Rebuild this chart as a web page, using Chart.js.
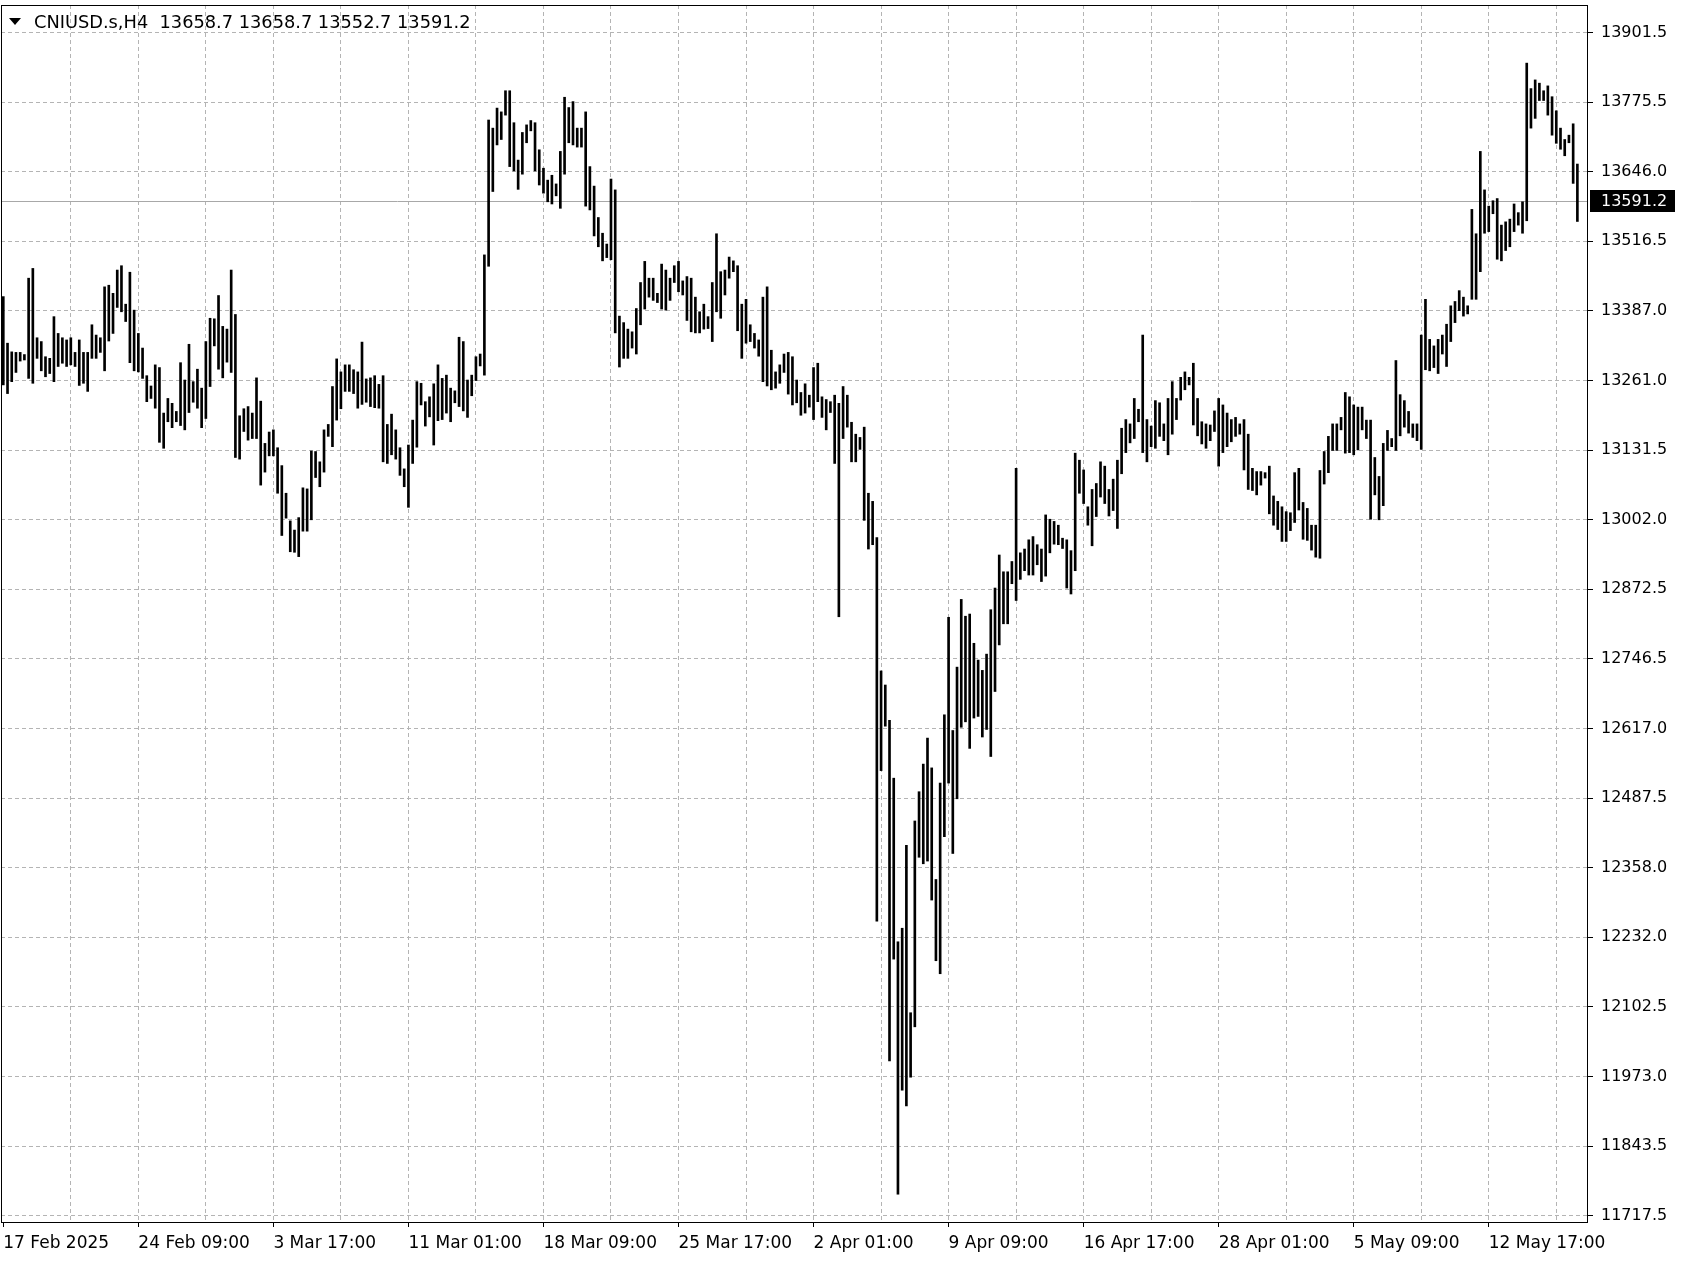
<!DOCTYPE html>
<html lang="en">
<head>
<meta charset="UTF-8">
<title>CNIUSD.s,H4</title>
<style>
    html, body { margin: 0; padding: 0; background: #fff; }
    #chart-box { width: 1700px; height: 1280px; }
</style>
</head>
<body>
<div id="chart-box"><canvas id="price-chart" width="1700" height="1280"></canvas></div>

<script src="https://cdn.jsdelivr.net/npm/chart.js"></script>
<script>
// header values: open high low close of the last bar
const symbolName = 'CNIUSD.s,H4';
const lastBarOHLC = [13658.7, 13658.7, 13552.7, 13591.2];
const lastPrice = 13591.2;

// bottom axis labels, one every 32 bars starting at bar 0
const xLabels = ['17 Feb 2025', '24 Feb 09:00', '3 Mar 17:00', '11 Mar 01:00', '18 Mar 09:00', '25 Mar 17:00',
    '2 Apr 01:00', '9 Apr 09:00', '16 Apr 17:00', '28 Apr 01:00', '5 May 09:00', '12 May 17:00'];

// price scale labels (the terminal spaces them evenly and rounds the text)
const yTicks = [13901.5, 13775.5, 13646.0, 13516.5, 13387.0, 13261.0, 13131.5, 13002.0, 12872.5,
    12746.5, 12617.0, 12487.5, 12358.0, 12232.0, 12102.5, 11973.0, 11843.5, 11717.5];

// H4 bars, high and low
const highs = [
    13414, 13328, 13312, 13311, 13311, 13307, 13448, 13466, 13338, 13331,
    13303, 13300, 13377, 13346, 13338, 13334, 13338, 13311, 13334, 13311,
    13311, 13362, 13343, 13338, 13432, 13435, 13420, 13463, 13471, 13400,
    13459, 13389, 13346, 13319, 13268, 13249, 13288, 13283, 13199, 13226,
    13217, 13202, 13292, 13260, 13326, 13257, 13280, 13245, 13331, 13374,
    13373, 13416, 13359, 13354, 13463, 13381, 13194, 13207, 13211, 13199,
    13264, 13221, 13143, 13164, 13168, 13135, 13102, 13051, 13000, 12983,
    13006, 13061, 13059, 13129, 13128, 13109, 13168, 13178, 13248, 13299,
    13275, 13288, 13288, 13279, 13275, 13330, 13262, 13264, 13268, 13252,
    13268, 13178, 13197, 13168, 13135, 13096, 13140, 13186, 13257, 13254,
    13220, 13229, 13253, 13288, 13263, 13269, 13245, 13240, 13339, 13331,
    13260, 13269, 13303, 13308, 13491, 13740, 13725, 13762, 13755, 13794,
    13794, 13735, 13666, 13717, 13731, 13739, 13735, 13685, 13651, 13629,
    13638, 13622, 13682, 13782, 13763, 13774, 13725, 13725, 13755, 13654,
    13618, 13560, 13531, 13511, 13631, 13611, 13378, 13366, 13354, 13349,
    13392, 13440, 13479, 13448, 13448, 13420, 13474, 13463, 13448, 13471,
    13479, 13443, 13451, 13448, 13413, 13386, 13400, 13377, 13440, 13530,
    13460, 13463, 13487, 13480, 13471, 13400, 13409, 13362, 13346, 13334,
    13413, 13432, 13315, 13275, 13288, 13308, 13311, 13303, 13260, 13237,
    13253, 13232, 13283, 13291, 13229, 13224, 13220, 13232, 13217, 13248,
    13232, 13182, 13160, 13154, 13173, 13051, 13036, 12969, 12723, 12697,
    12632, 12525, 12223, 12248, 12401, 12092, 12446, 12500, 12551, 12599,
    12544, 12338, 12516, 12642, 12822, 12613, 12730, 12855, 12824, 12828,
    12774, 12743, 12724, 12754, 12836, 12876, 12937, 12906, 12906, 12925,
    13097, 12941, 12948, 12965, 12971, 12956, 12948, 13011, 13003, 12999,
    12992, 12968, 12965, 12945, 13125, 13112, 13094, 13026, 13058, 13069,
    13109, 13101, 13058, 13077, 13112, 13171, 13187, 13179, 13226, 13206,
    13343, 13187, 13175, 13222, 13218, 13179, 13226, 13257, 13226, 13265,
    13275, 13265, 13291, 13226, 13183, 13179, 13177, 13203, 13226, 13214,
    13199, 13187, 13191, 13179, 13187, 13160, 13097, 13091, 13091, 13089,
    13101, 13046, 13036, 13026, 13017, 13015, 13089, 13097, 13034, 13023,
    12992, 12992, 13093, 13128, 13156, 13179, 13179, 13191, 13237, 13229,
    13214, 13210, 13210, 13186, 13186, 13117, 13082, 13143, 13167, 13152,
    13296, 13233, 13222, 13202, 13179, 13179, 13343, 13409, 13335, 13323,
    13335, 13343, 13363, 13397, 13405, 13425, 13413, 13397, 13575, 13530,
    13682, 13611, 13581, 13591, 13595, 13546, 13552, 13557, 13585, 13569,
    13589, 13845, 13798, 13814, 13808, 13794, 13803, 13783, 13757, 13725,
    13704, 13712, 13733, 13658.7
];
const lows = [
    13251, 13235, 13257, 13274, 13295, 13297, 13263, 13254, 13300, 13277,
    13266, 13272, 13257, 13285, 13291, 13285, 13288, 13285, 13250, 13254,
    13239, 13300, 13300, 13311, 13277, 13332, 13346, 13394, 13386, 13368,
    13292, 13277, 13275, 13263, 13220, 13226, 13208, 13145, 13134, 13183,
    13172, 13183, 13176, 13168, 13200, 13219, 13208, 13172, 13189, 13248,
    13323, 13280, 13264, 13293, 13274, 13117, 13114, 13165, 13149, 13152,
    13152, 13066, 13090, 13120, 13120, 13051, 12973, 13005, 12943, 12942,
    12934, 12981, 12981, 13002, 13080, 13063, 13090, 13156, 13137, 13186,
    13207, 13239, 13239, 13235, 13208, 13215, 13219, 13211, 13209, 13208,
    13109, 13106, 13122, 13114, 13084, 13063, 13025, 13106, 13136, 13214,
    13175, 13192, 13140, 13185, 13187, 13199, 13183, 13218, 13211, 13203,
    13191, 13231, 13259, 13286, 13269, 13470, 13608, 13694, 13704, 13749,
    13654, 13646, 13612, 13640, 13698, 13720, 13646, 13620, 13605, 13589,
    13585, 13600, 13577, 13640, 13698, 13694, 13690, 13690, 13581, 13574,
    13526, 13506, 13480, 13486, 13482, 13347, 13284, 13300, 13300, 13319,
    13308, 13362, 13391, 13413, 13407, 13403, 13391, 13389, 13407, 13440,
    13423, 13417, 13370, 13349, 13347, 13347, 13354, 13355, 13331, 13386,
    13374, 13417, 13448, 13460, 13351, 13300, 13328, 13331, 13319, 13304,
    13257, 13249, 13242, 13245, 13254, 13274, 13234, 13214, 13218, 13195,
    13199, 13210, 13187, 13220, 13191, 13168, 13200, 13106, 12823, 13152,
    13173, 13109, 13109, 13132, 13001, 12948, 12956, 12261, 12539, 12621,
    12003, 12191, 11757, 11949, 11920, 11973, 12066, 12379, 12367, 12372,
    12300, 12188, 12164, 12417, 12516, 12386, 12487, 12619, 12629, 12580,
    12636, 12639, 12601, 12615, 12565, 12685, 12771, 12810, 12810, 12884,
    12853, 12892, 12908, 12900, 12900, 12919, 12888, 12898, 12941, 12957,
    12956, 12949, 12876, 12865, 12908, 13051, 13032, 12992, 12954, 13008,
    13044, 13032, 13009, 13019, 12986, 13087, 13126, 13144, 13152, 13183,
    13126, 13109, 13137, 13134, 13156, 13148, 13122, 13160, 13187, 13223,
    13242, 13251, 13177, 13157, 13142, 13134, 13148, 13165, 13101, 13126,
    13137, 13146, 13156, 13160, 13094, 13058, 13056, 13048, 13066, 13079,
    13013, 12992, 12984, 12962, 12962, 12982, 12997, 13020, 12966, 12964,
    12946, 12933, 12931, 13068, 13089, 13130, 13130, 13168, 13125, 13126,
    13122, 13131, 13168, 13152, 13003, 13048, 13002, 13028, 13130, 13137,
    13130, 13157, 13173, 13162, 13154, 13148, 13132, 13279, 13277, 13283,
    13272, 13308, 13285, 13331, 13366, 13388, 13378, 13382, 13409, 13409,
    13460, 13531, 13534, 13567, 13483, 13480, 13499, 13506, 13534, 13546,
    13531, 13554, 13725, 13743, 13776, 13776, 13749, 13712, 13697, 13686,
    13674, 13698, 13623, 13552.7
];

const barsPerLabel = 32;
const barsPerGrid = 16;
const gridColor = '#b4b4b4';
const fontFamily = '"DejaVu Sans", Tahoma, sans-serif';

// even steps between the first and last price label
const yStep = (yTicks[0] - yTicks[yTicks.length - 1]) / (yTicks.length - 1);

// frame, bid line, price box and the header text
const terminalLook = {
    id: 'terminalLook',
    beforeDatasetsDraw(chart) {
        const { ctx, chartArea } = chart;
        const y = Math.round(chart.scales.y.getPixelForValue(lastPrice)) + 0.5;
        ctx.save();
        ctx.strokeStyle = '#a8a8a8';
        ctx.lineWidth = 1;
        ctx.beginPath();
        ctx.moveTo(chartArea.left, y);
        ctx.lineTo(chartArea.right, y);
        ctx.stroke();
        ctx.restore();
    },
    afterDraw(chart) {
        const { ctx, chartArea } = chart;
        const yScale = chart.scales.y;
        ctx.save();
        ctx.strokeStyle = '#000';
        ctx.lineWidth = 1;
        ctx.strokeRect(Math.round(chartArea.left) + 0.5, Math.round(chartArea.top) + 0.5,
            Math.round(chartArea.right - chartArea.left), Math.round(chartArea.bottom - chartArea.top));

        // last price box on the scale
        const py = yScale.getPixelForValue(lastPrice);
        ctx.fillStyle = '#000';
        ctx.fillRect(chartArea.right + 3, Math.round(py) - 11, 85, 22);
        ctx.fillStyle = '#fff';
        ctx.font = '16px ' + fontFamily;
        ctx.textBaseline = 'middle';
        ctx.textAlign = 'left';
        ctx.fillText(lastPrice.toFixed(1), chartArea.right + 14, py + 1);

        // header
        ctx.fillStyle = '#000';
        ctx.beginPath();
        ctx.moveTo(9, 18);
        ctx.lineTo(21, 18);
        ctx.lineTo(15, 25);
        ctx.closePath();
        ctx.fill();
        ctx.font = '17.8px ' + fontFamily;
        ctx.fillText(symbolName + '  ' + lastBarOHLC.map(v => v.toFixed(1)).join(' '), 34, 23);
        ctx.restore();
    }
};

Chart.defaults.font.family = fontFamily;
Chart.defaults.color = '#000';

new Chart(document.getElementById('price-chart'), {
    type: 'bar',
    data: {
        datasets: [{
            data: highs.map((h, i) => ({ x: i, y: [lows[i], h] })),
            backgroundColor: '#000',
            borderWidth: 0,
            barThickness: 2
        }]
    },
    options: {
        responsive: false,
        animation: false,
        events: [],
        layout: { padding: { top: 5, left: 1, right: 0, bottom: 0 } },
        plugins: {
            legend: { display: false },
            tooltip: { enabled: false }
        },
        scales: {
            x: {
                type: 'linear',
                bounds: 'data',
                offset: false,
                min: -0.545,
                max: 375.28,
                afterBuildTicks(scale) {
                    const t = [];
                    for (let v = 0; v < highs.length; v += barsPerGrid) t.push({ value: v });
                    scale.ticks = t;
                },
                afterFit(scale) {
                    scale.height = 58;
                    scale.paddingLeft = 0;
                    scale.paddingRight = 0;
                },
                grid: {
                    offset: false,
                    color: c => (c.tick && c.tick.value > 0 ? gridColor : 'transparent'),
                    tickColor: c => (c.tick && c.tick.value % barsPerLabel === 0 ? '#000' : 'transparent'),
                    tickLength: 5
                },
                border: { color: '#000', dash: [4, 3] },
                ticks: {
                    autoSkip: false,
                    maxRotation: 0,
                    align: 'start',
                    padding: 6,
                    font: { size: 17 },
                    callback: v => (v % barsPerLabel === 0 ? xLabels[v / barsPerLabel] : '')
                }
            },
            y: {
                position: 'right',
                min: 11705.7,
                max: 13952.3,
                afterBuildTicks(scale) {
                    scale.ticks = yTicks.map((v, k) => ({ value: yTicks[0] - k * yStep }));
                },
                afterFit(scale) {
                    scale.width = 113;
                    scale.paddingTop = 0;
                    scale.paddingBottom = 0;
                },
                grid: { color: gridColor, tickColor: '#000', tickLength: 6 },
                border: { color: '#000', dash: [4, 3] },
                ticks: {
                    padding: 8,
                    font: { size: 16 },
                    callback: (v, k) => yTicks[k].toFixed(1)
                }
            }
        }
    },
    plugins: [terminalLook]
});
</script>
</body>
</html>
